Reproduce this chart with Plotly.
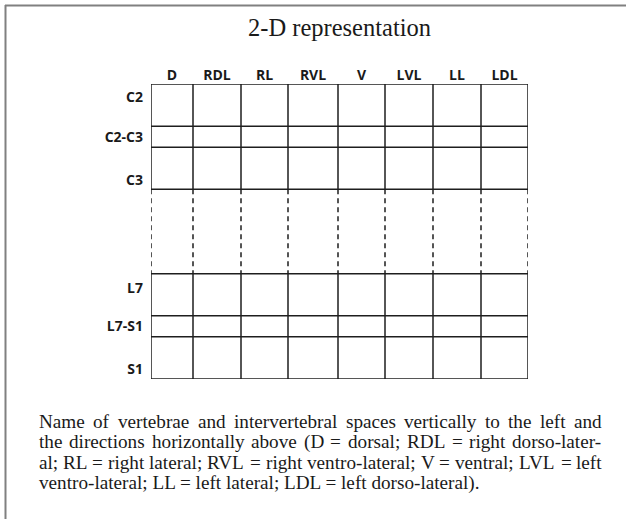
import plotly.graph_objects as go

# ---- data (categories / labels) ----
title_text = "2-D representation"
directions = ["D", "RDL", "RL", "RVL", "V", "LVL", "LL", "LDL"]
segments = ["C2", "C2-C3", "C3", "L7", "L7-S1", "S1"]
segment_kind = ["vertebra", "space", "vertebra", "vertebra", "space", "vertebra"]
caption_lines = [
    "Name of vertebrae and intervertebral spaces vertically to the left and",
    "the directions horizontally above (D = dorsal; RDL = right dorso-later-",
    "al; RL = right lateral; RVL = right ventro-lateral; V = ventral; LVL = left",
    "ventro-lateral; LL = left lateral; LDL = left dorso-lateral).",
]
caption_justified = [True, True, True, False]

# ---- style / layout constants ----
W, H = 626, 519
col_widths = [42, 48, 47, 50, 47, 48, 48, 47]
kind_height = {"vertebra": 42, "space": 21}
gap_after = {"C3": 84}
label_offset = [-8, 0, 12, -7, 0, 11]
grid_px = (151, 528, 84, 379)  # left, right, top, bottom in pixels
line_color = "#1e1e1e"
line_w = 1.5
text_color = "#1a1a1a"

cap_font = "Liberation Serif"
cap_size = 19.2
cap_left, cap_right = 38, 601
cap_top, cap_step = 421, 20.7

# Times/Liberation Serif advance widths (per 1000 em) for width estimation
TW = {' ': 250, '(': 333, ')': 333, ';': 278, '=': 564, '-': 333, '.': 250, ',': 250,
      'A': 722, 'D': 722, 'L': 611, 'N': 722, 'R': 667, 'V': 722,
      'a': 444, 'b': 500, 'c': 444, 'd': 500, 'e': 444, 'f': 333, 'g': 500, 'h': 500,
      'i': 278, 'k': 500, 'l': 278, 'm': 778, 'n': 500, 'o': 500, 'p': 500, 'r': 333,
      's': 389, 't': 278, 'u': 500, 'v': 500, 'w': 722, 'x': 500, 'y': 500, 'z': 444}


def text_w(s, size):
    return sum(TW.get(ch, 500) for ch in s) / 1000.0 * size


# column boundaries
xb = [0]
for w in col_widths:
    xb.append(xb[-1] + w)
xcent = [(xb[i] + xb[i + 1]) / 2 for i in range(len(directions))]

# row boundaries, split into blocks
blocks = []
y = 0
cur = [y]
ycent = []
for name, kind in zip(segments, segment_kind):
    h = kind_height[kind]
    ycent.append(y + h / 2)
    y += h
    cur.append(y)
    if name in gap_after:
        blocks.append(cur)
        y += gap_after[name]
        cur = [y]
blocks.append(cur)
ytot = y
ylab = [c + o for c, o in zip(ycent, label_offset)]

# build line coordinates
solid_x, solid_y, dash_x, dash_y = [], [], [], []
for b in blocks:
    for yy in b:
        solid_x += [xb[0], xb[-1], None]
        solid_y += [yy, yy, None]
    for xx in xb:
        solid_x += [xx, xx, None]
        solid_y += [b[0], b[-1], None]
for i in range(len(blocks) - 1):
    for xx in xb:
        dash_x += [xx, xx, None]
        dash_y += [blocks[i][-1], blocks[i + 1][0], None]

fig = go.Figure()
fig.add_trace(go.Scatter(x=solid_x, y=solid_y, mode="lines",
                         line=dict(color=line_color, width=line_w),
                         hoverinfo="skip", showlegend=False))
fig.add_trace(go.Scatter(x=dash_x, y=dash_y, mode="lines",
                         line=dict(color=line_color, width=line_w, dash="5px,4px"),
                         hoverinfo="skip", showlegend=False))

L, R, T, B = grid_px
lab_font = dict(family="Open Sans", size=14, color=text_color, weight="bold")
fig.update_layout(
    width=W, height=H,
    margin=dict(l=0, r=0, t=0, b=0, autoexpand=False),
    paper_bgcolor="white", plot_bgcolor="white",
    showlegend=False,
    title=dict(text=title_text, x=((L + R) / 2) / W, xref="paper", xanchor="center",
               y=1 - 27 / H, yref="container", yanchor="middle", automargin=False,
               font=dict(family="Liberation Serif", size=24.5, color=text_color)),
    xaxis=dict(domain=[L / W, R / W], range=[0, xb[-1]], side="top",
               tickvals=xcent, ticktext=directions, ticks="",
               showgrid=False, zeroline=False, showline=False, automargin=False,
               ticklabelstandoff=0, tickfont=lab_font, fixedrange=True),
    yaxis=dict(domain=[1 - B / H, 1 - T / H], range=[ytot, 0],
               tickvals=ylab, ticktext=segments, ticks="",
               showgrid=False, zeroline=False, showline=False, automargin=False,
               ticklabelstandoff=7, tickfont=lab_font, fixedrange=True),
)

# outer frame (top and left edges only)
fig.add_shape(type="line", xref="paper", yref="paper",
              x0=5 / W, x1=1.02, y0=1 - 5.5 / H, y1=1 - 5.5 / H,
              line=dict(color="#808080", width=2))
fig.add_shape(type="line", xref="paper", yref="paper",
              x0=5.5 / W, x1=5.5 / W, y0=-0.02, y1=1 - 5 / H,
              line=dict(color="#808080", width=2))

# caption (justified lines are laid out word by word)
cap_font_d = dict(family=cap_font, size=cap_size, color=text_color)
for i, (line, just) in enumerate(zip(caption_lines, caption_justified)):
    ypos = 1 - (cap_top + i * cap_step) / H
    if not just:
        fig.add_annotation(text=line, xref="paper", yref="paper",
                           x=cap_left / W, y=ypos, xanchor="left", yanchor="middle",
                           showarrow=False, borderpad=0, font=cap_font_d)
        continue
    words = line.split(" ")
    widths = [text_w(w, cap_size) for w in words]
    gap = (cap_right - cap_left - sum(widths)) / (len(words) - 1)
    xpos = cap_left
    for w, ww in zip(words, widths):
        fig.add_annotation(text=w, xref="paper", yref="paper",
                           x=xpos / W, y=ypos, xanchor="left", yanchor="middle",
                           showarrow=False, borderpad=0, font=cap_font_d)
        xpos += ww + gap

fig.write_html(
    "out.html",
    config={"displayModeBar": False, "staticPlot": True},
    post_script=("document.documentElement.style.margin='0';"
                 "document.documentElement.style.padding='0';"
                 "document.body.style.margin='0';"
                 "document.body.style.padding='0';"
                 "document.body.style.overflow='hidden';"
                 "document.documentElement.style.overflow='hidden';"),
)
